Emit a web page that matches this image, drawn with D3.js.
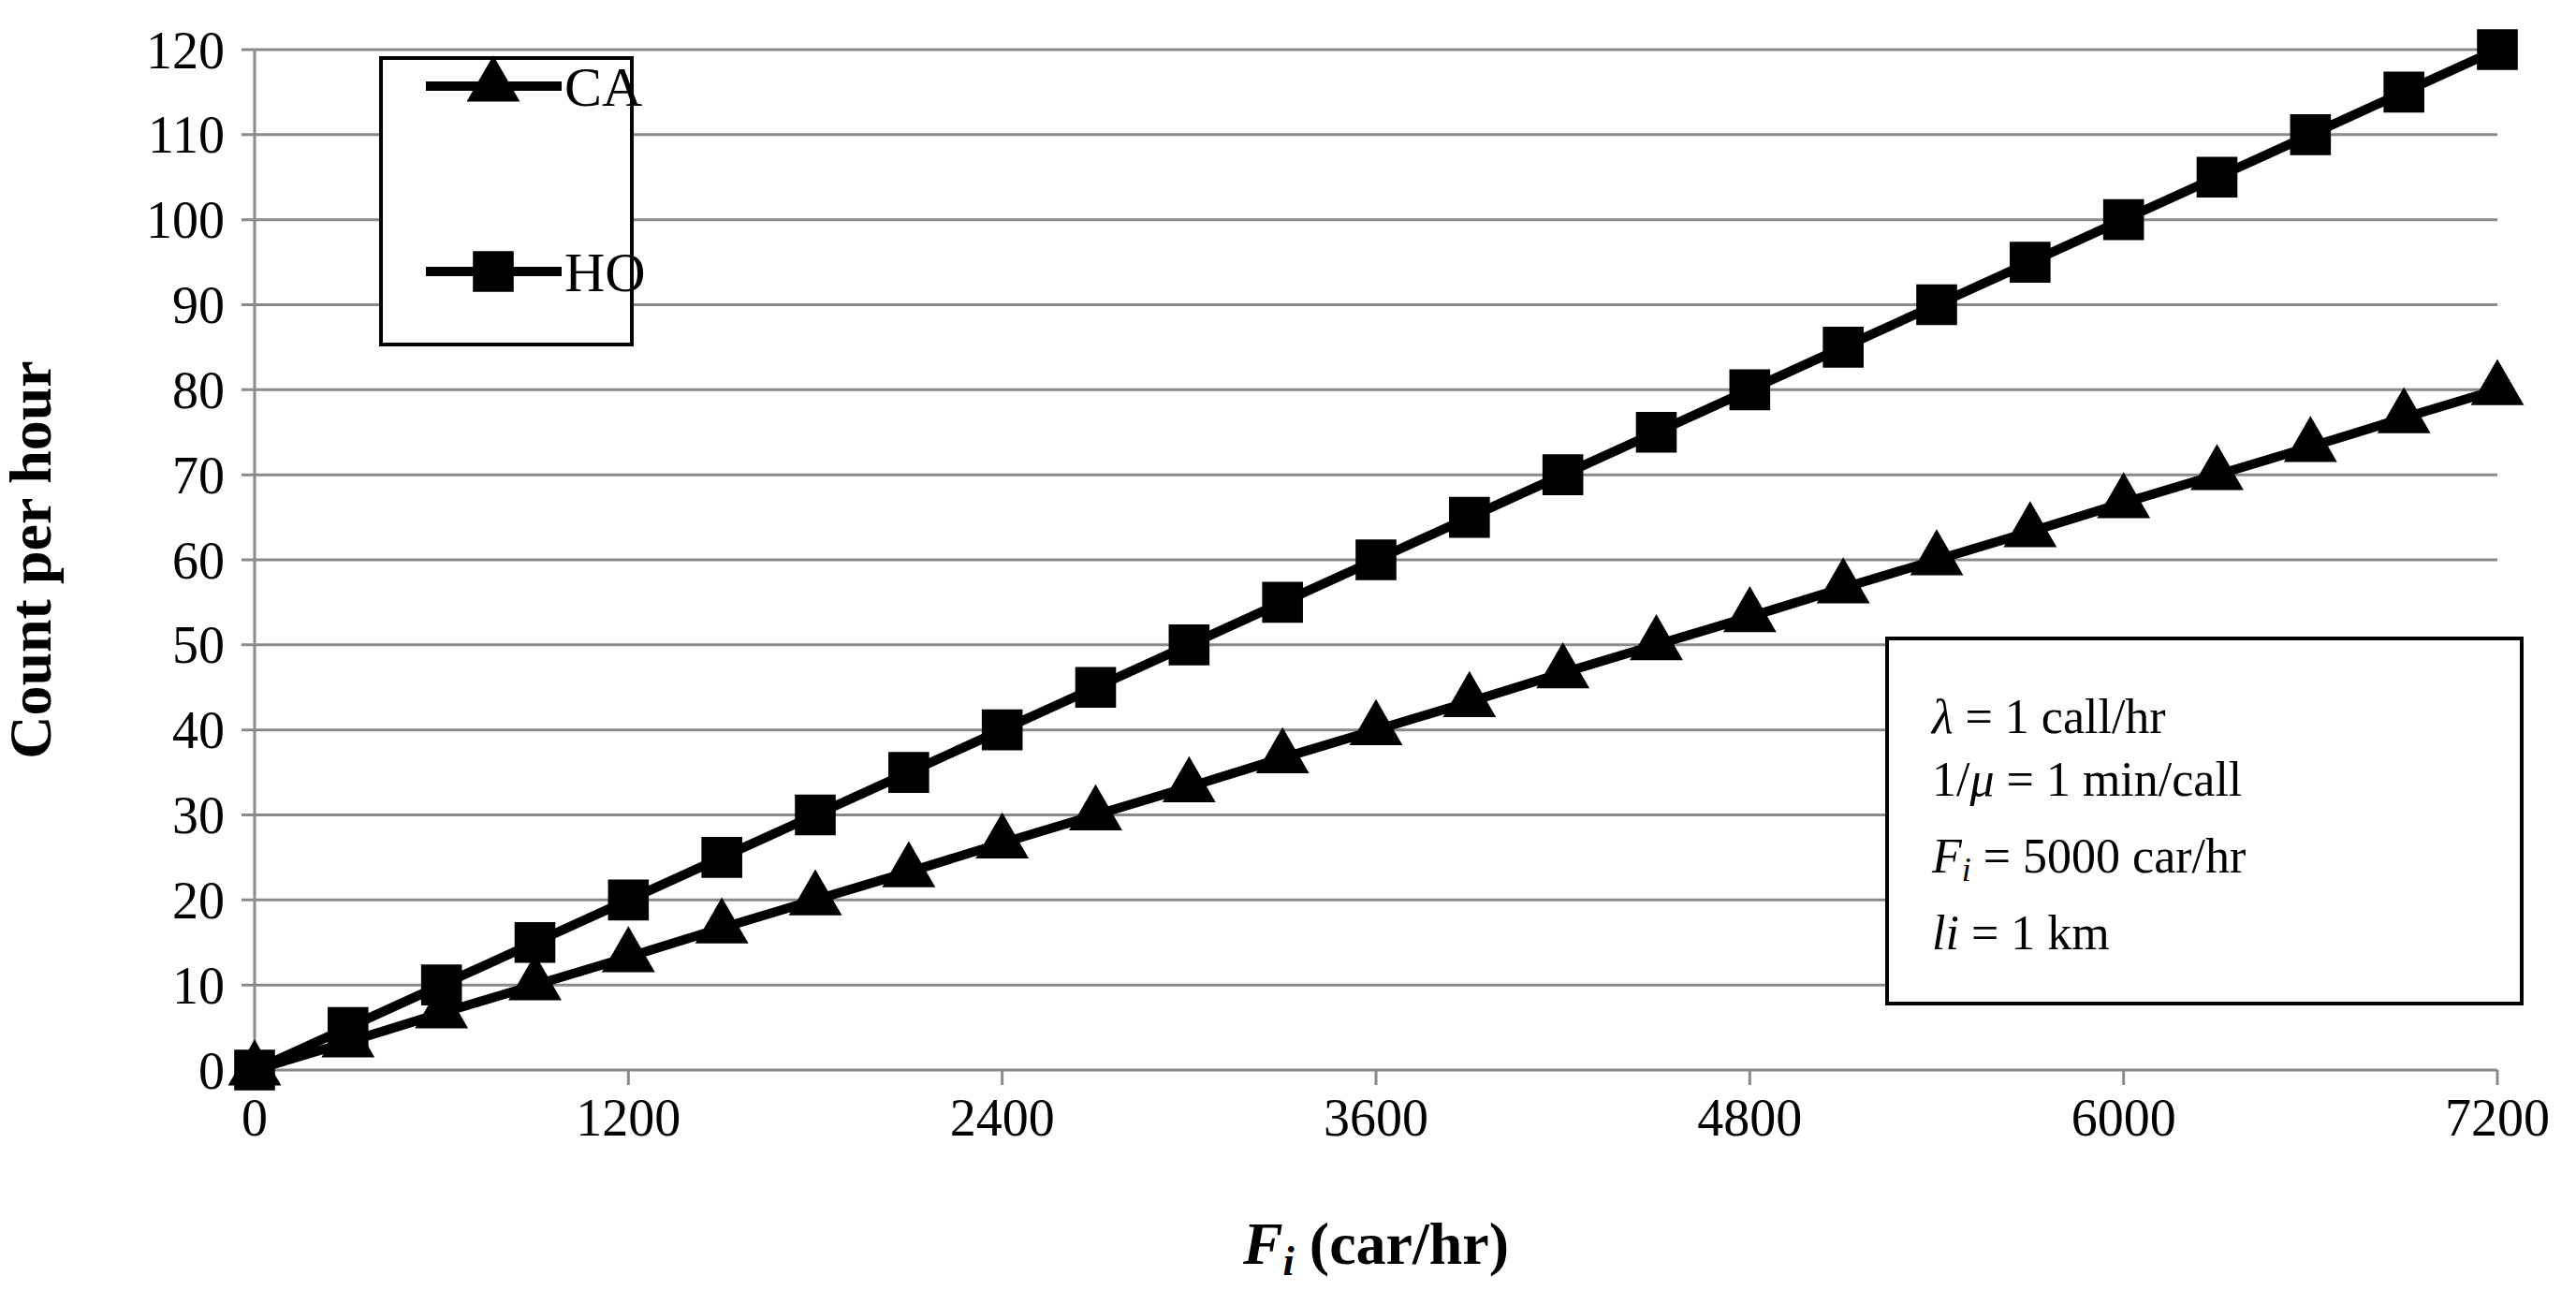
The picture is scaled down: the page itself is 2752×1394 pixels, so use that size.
<!DOCTYPE html>
<html><head><meta charset="utf-8">
<script src="https://cdn.jsdelivr.net/npm/d3@7"></script>
<style>body{margin:0;background:#fff}</style></head>
<body><svg id="c" width="2752" height="1394"></svg>
<script>
const xValues = [0,300,600,900,1200,1500,1800,2100,2400,2700,3000,3300,3600,3900,4200,4500,4800,5100,5400,5700,6000,6300,6600,6900,7200];
const hoValues = [0,5,10,15,20,25,30,35,40,45,50,55,60,65,70,75,80,85,90,95,100,105,110,115,120];
const caValues = [0,3.3,6.7,10,13.3,16.7,20,23.3,26.7,30,33.3,36.7,40,43.3,46.7,50,53.3,56.7,60,63.3,66.7,70,73.3,76.7,80];
const xTicks = [0,1200,2400,3600,4800,6000,7200];
const yTicks = [0,10,20,30,40,50,60,70,80,90,100,110,120];
const annotations = ["λ = 1 call/hr","1/μ = 1 min/call","F_i = 5000  car/hr","li = 1 km"];

const svg = d3.select("#c");
const font = "'Liberation Serif', serif";
const L=272,R=2668,T=53,B=1143;
const x = d3.scaleLinear().domain([0,7200]).range([L,R]);
const y = d3.scaleLinear().domain([0,120]).range([B,T]);

svg.append("g").selectAll("line").data(yTicks).join("line")
  .attr("x1",L-14).attr("x2",R).attr("y1",d=>y(d)).attr("y2",d=>y(d))
  .attr("stroke","#8a8a8a").attr("stroke-width",3);
svg.append("line").attr("x1",L).attr("x2",L).attr("y1",T).attr("y2",B).attr("stroke","#8a8a8a").attr("stroke-width",3);
svg.append("g").selectAll("line").data(xTicks).join("line")
  .attr("x1",d=>x(d)).attr("x2",d=>x(d)).attr("y1",B).attr("y2",B+16)
  .attr("stroke","#8a8a8a").attr("stroke-width",3);

svg.append("g").selectAll("text").data(yTicks).join("text")
  .attr("x",L-32).attr("y",d=>y(d)).attr("dy","0.35em").attr("text-anchor","end")
  .attr("font-family",font).attr("font-size",56).text(d=>d);
svg.append("g").selectAll("text").data(xTicks).join("text")
  .attr("x",d=>x(d)).attr("y",B+70).attr("text-anchor","middle")
  .attr("font-family",font).attr("font-size",56).text(d=>d);

svg.append("text").attr("transform",`translate(54,${(T+B)/2}) rotate(-90)`).attr("text-anchor","middle")
  .attr("font-family",font).attr("font-size",64).attr("font-weight","bold").text("Count per hour");
const xt = svg.append("text").attr("x",(L+R)/2).attr("y",1350).attr("text-anchor","middle")
  .attr("font-family",font).attr("font-size",64).attr("font-weight","bold");
xt.append("tspan").attr("font-style","italic").text("F");
xt.append("tspan").attr("font-style","italic").attr("font-size",44).attr("dy",12).text("i");
xt.append("tspan").attr("dy",-12).text(" (car/hr)");

const line = d3.line().x((d,i)=>x(xValues[i])).y(d=>y(d));
const sz = s => s===d3.symbolSquare?1900:1400;
function series(vals, shape){
  svg.append("path").datum(vals).attr("d",line).attr("fill","none").attr("stroke","#000").attr("stroke-width",10);
  svg.append("g").selectAll("path").data(vals).join("path")
    .attr("transform",(d,i)=>`translate(${x(xValues[i])},${y(d)})`)
    .attr("d",d3.symbol().type(shape).size(sz(shape))).attr("fill","#000");
}
series(hoValues,d3.symbolSquare);
series(caValues,d3.symbolTriangle);

svg.append("rect").attr("x",407).attr("y",62).attr("width",268).attr("height",306).attr("fill","#fff").attr("stroke","#000").attr("stroke-width",4);
[["CA",d3.symbolTriangle,92],["HO",d3.symbolSquare,290]].forEach(([n,s,yy])=>{
  svg.append("line").attr("x1",455).attr("x2",600).attr("y1",yy).attr("y2",yy).attr("stroke","#000").attr("stroke-width",10);
  svg.append("path").attr("transform",`translate(527,${yy})`).attr("d",d3.symbol().type(s).size(sz(s))).attr("fill","#000");
  svg.append("text").attr("x",603).attr("y",yy).attr("dy","0.35em").attr("font-family",font).attr("font-size",60).text(n);
});

svg.append("rect").attr("x",2016).attr("y",682).attr("width",678).attr("height",390).attr("fill","#fff").attr("stroke","#000").attr("stroke-width",4);
const ay=[783,850,932,1014];
annotations.forEach((t,i)=>{
  const tx = svg.append("text").attr("x",2064).attr("y",ay[i]).attr("font-family",font).attr("font-size",52);
  if(i===0){tx.append("tspan").attr("font-style","italic").text("λ");tx.append("tspan").text(" = 1 call/hr");}
  else if(i===1){tx.append("tspan").text("1/");tx.append("tspan").attr("font-style","italic").text("μ");tx.append("tspan").text(" = 1 min/call");}
  else if(i===2){tx.append("tspan").attr("font-style","italic").text("F");tx.append("tspan").attr("font-style","italic").attr("font-size",36).attr("dy",9).text("i");tx.append("tspan").attr("dy",-9).text(" = 5000  car/hr");}
  else {tx.append("tspan").attr("font-style","italic").text("li");tx.append("tspan").text(" = 1 km");}
});
</script></body></html>
